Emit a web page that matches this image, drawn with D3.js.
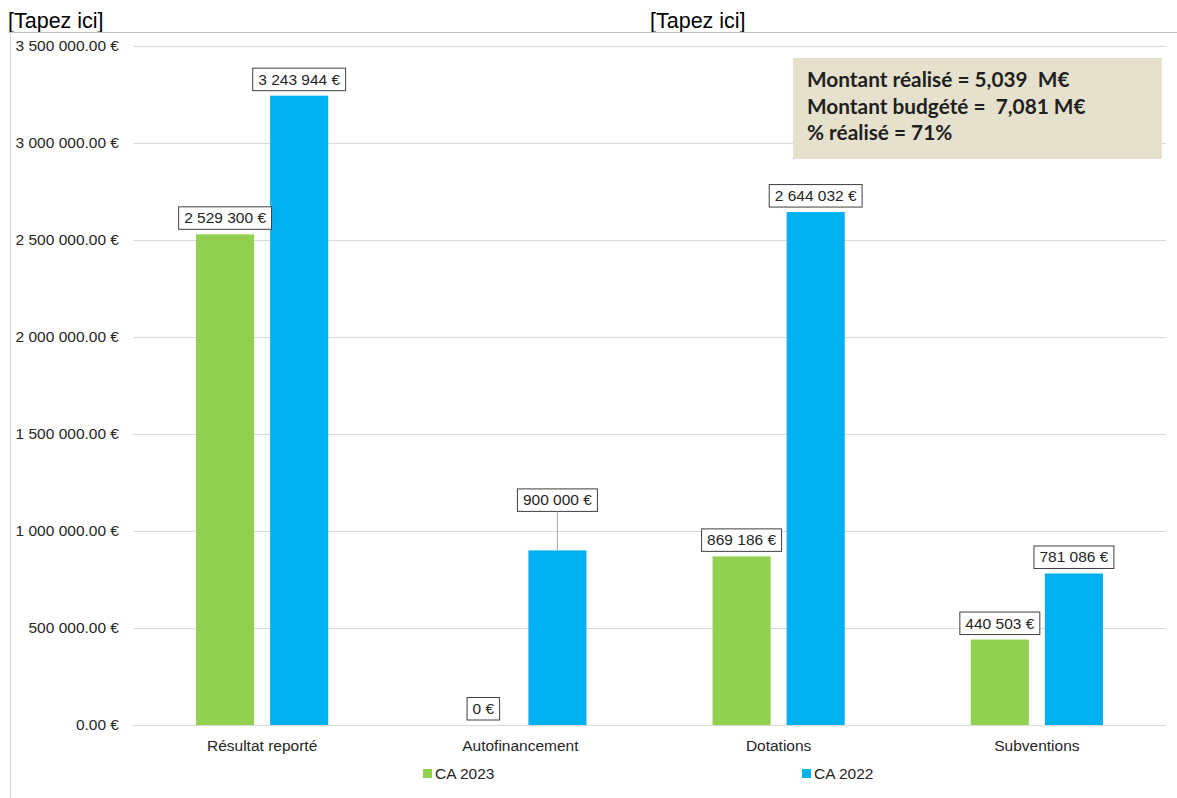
<!DOCTYPE html>
<html>
<head>
<meta charset="utf-8">
<script src="https://cdn.jsdelivr.net/npm/d3@7"></script>
<style>
  body { margin: 0; background: #fff; }
  text { font-family: Arial, "Liberation Sans", sans-serif; fill: #262626; }
</style>
</head>
<body>
<div id="chart"></div>
<script>
// Data
const categories = ["Résultat reporté", "Autofinancement", "Dotations", "Subventions"];
const seriesNames = ["CA 2023", "CA 2022"];
const ca2023 = [2529300, 0, 869186, 440503];
const ca2022 = [3243944, 900000, 2644032, 781086];
const yTicks = [0, 500000, 1000000, 1500000, 2000000, 2500000, 3000000, 3500000];
const infoLines = ["Montant réalisé = 5,039  M€", "Montant budgété =  7,081 M€", "% réalisé = 71%"];
const headerText = "[Tapez ici]";

const colors = {"CA 2023": "#92d050", "CA 2022": "#00b0f0"};

var width = 1177, height = 798;
var plot = {left: 133, right: 1166, top: 46, bottom: 725};

var svg = d3.select("#chart").append("svg")
    .attr("width", width)
    .attr("height", height);

// page header (word template leftovers)
svg.append("text").attr("x", 8).attr("y", 28).style("font-size", "21.5px").style("fill", "#000").text(headerText);
svg.append("text").attr("x", 650).attr("y", 28).style("font-size", "21.5px").style("fill", "#000").text(headerText);
svg.append("line").attr("x1", 10).attr("x2", width).attr("y1", 32.5).attr("y2", 32.5)
    .attr("stroke", "#bfbfbf").attr("stroke-width", 1);
svg.append("line").attr("x1", 10.5).attr("x2", 10.5).attr("y1", 32).attr("y2", height)
    .attr("stroke", "#d9d9d9").attr("stroke-width", 1);

// scales
var x0 = d3.scaleBand().domain(categories).range([plot.left, plot.right]);
var x1 = d3.scaleBand().domain(seriesNames).range([0, x0.bandwidth()])
    .paddingInner(0.216).paddingOuter(0.851);
var y = d3.scaleLinear().domain([0, 3500000]).range([plot.bottom, plot.top]);

var fr = d3.formatLocale({decimal: ".", thousands: " ", grouping: [3], currency: ["", " €"]});
var tickFmt = v => fr.format(",.2f")(v) + " €";
var labelFmt = v => fr.format(",.0f")(v) + " €";

// gridlines + y tick labels
var yAxis = d3.axisLeft(y).tickValues(yTicks).tickSize(-(plot.right - plot.left)).tickFormat(tickFmt).tickPadding(14);
var gy = svg.append("g").attr("transform", `translate(${plot.left},0)`).call(yAxis);
gy.select(".domain").remove();
gy.selectAll(".tick line").attr("stroke", "#d9d9d9");
gy.selectAll(".tick text").style("font-size", "15.5px").style("font-family", "Arial, 'Liberation Sans', sans-serif").attr("fill", "#262626");

// category labels
svg.append("g").selectAll("text")
    .data(categories)
    .join("text")
    .attr("x", d => x0(d) + x0.bandwidth() / 2)
    .attr("y", 751)
    .attr("text-anchor", "middle")
    .style("font-size", "15.5px")
    .text(d => d);

// bars
var rows = categories.map((c, i) => ({
    category: c,
    values: [
        {series: "CA 2023", value: ca2023[i]},
        {series: "CA 2022", value: ca2022[i]}
    ]
}));

var groups = svg.append("g").selectAll("g")
    .data(rows)
    .join("g")
    .attr("transform", d => `translate(${x0(d.category)},0)`);

groups.selectAll("rect")
    .data(d => d.values)
    .join("rect")
    .attr("x", d => x1(d.series))
    .attr("y", d => y(d.value))
    .attr("width", x1.bandwidth())
    .attr("height", d => y(0) - y(d.value))
    .attr("fill", d => colors[d.series]);

// data labels (the 900 000 label was dragged up in the original, with a leader line)
var labelLift = {"Autofinancement|CA 2022": 34};

groups.each(function(row) {
    var g = d3.select(this);
    row.values.forEach(function(d) {
        var cx = x1(d.series) + x1.bandwidth() / 2;
        var lift = labelLift[row.category + "|" + d.series] || 0;
        var bottom = y(d.value) - 5 - lift;
        var lbl = g.append("g");
        var t = lbl.append("text")
            .attr("x", cx)
            .attr("y", bottom - 6)
            .attr("text-anchor", "middle")
            .style("font-size", "15.5px")
            .text(labelFmt(d.value));
        var w = t.node().getComputedTextLength();
        lbl.insert("rect", "text")
            .attr("x", cx - w / 2 - 5.5)
            .attr("y", bottom - 22.5)
            .attr("width", w + 11)
            .attr("height", 22.5)
            .attr("fill", "#fff")
            .attr("stroke", "#404040")
            .attr("stroke-width", 1);
        if (lift) {
            g.append("line")
                .attr("x1", cx).attr("x2", cx)
                .attr("y1", bottom).attr("y2", y(d.value))
                .attr("stroke", "#a6a6a6");
        }
    });
});

// legend
var legendX = {"CA 2023": 423, "CA 2022": 802};
var legend = svg.append("g").selectAll("g")
    .data(seriesNames)
    .join("g")
    .attr("transform", d => `translate(${legendX[d]},769)`);
legend.append("rect").attr("width", 9).attr("height", 9).attr("fill", d => colors[d]);
legend.append("text").attr("x", 12).attr("y", 10).style("font-size", "15.5px").text(d => d);

// info box
var info = svg.append("g");
info.append("rect").attr("x", 793).attr("y", 58).attr("width", 369).attr("height", 101).attr("fill", "#e6e1cd");
info.selectAll("text")
    .data(infoLines)
    .join("text")
    .attr("x", 807)
    .attr("y", (d, i) => 87 + i * 26.5)
    .style("font-family", "Lato, 'Open Sans', sans-serif")
    .style("font-weight", "bold")
    .style("font-size", "20.8px")
    .style("fill", "#1f1f1f")
    .style("white-space", "pre")
    .text(d => d);
</script>
</body>
</html>
